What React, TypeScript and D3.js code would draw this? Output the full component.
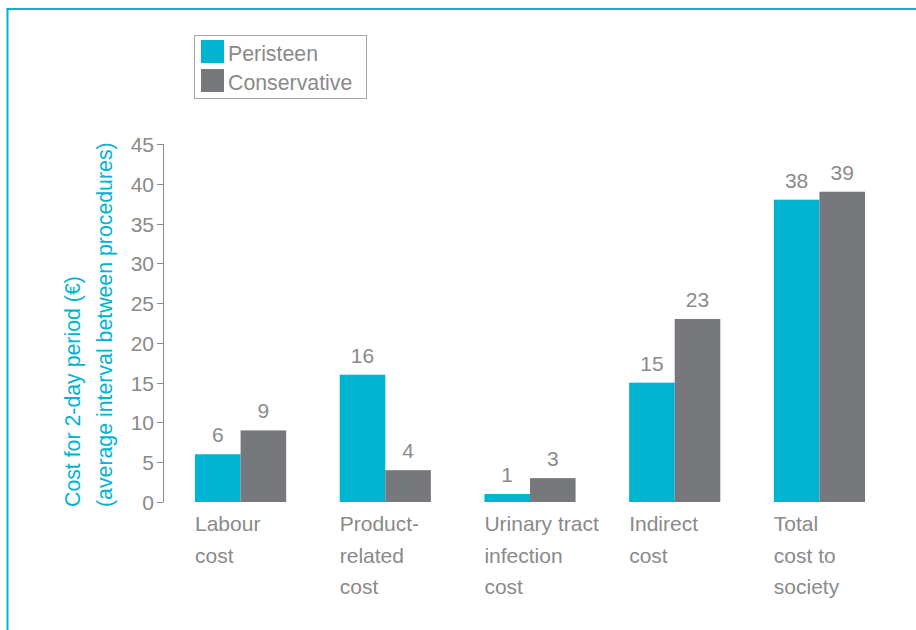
import React from "react";
import * as d3 from "d3";

const categories: string[][] = [
  ["Labour", "cost"],
  ["Product-", "related", "cost"],
  ["Urinary tract", "infection", "cost"],
  ["Indirect", "cost"],
  ["Total", "cost to", "society"],
];
const peristeen = [6, 16, 1, 15, 38];
const conservative = [9, 4, 3, 23, 39];
const series = ["Peristeen", "Conservative"];
const yTicks = [0, 5, 10, 15, 20, 25, 30, 35, 40, 45];
const yTitle = ["Cost for 2-day period (€)", "(average interval between procedures)"];

const W = 916;
const H = 630;
const CYAN = "#00b3d1";
const GREY = "#77787b";
const TEXT = "#8a8a8a";
const FONT = "'Liberation Sans', Arial, sans-serif";
const FS = 21;

export default function App() {
  const idx = categories.map((_, i) => String(i));
  const x = d3.scaleBand<string>().domain(idx).range([195, 865]).paddingInner(0.37).paddingOuter(0);
  const xs = d3.scaleBand<string>().domain(series).range([0, x.bandwidth()]).padding(0);
  const y = d3.scaleLinear().domain([0, 45]).range([502, 144]);
  const color = d3.scaleOrdinal<string, string>().domain(series).range([CYAN, GREY]);
  const values = [peristeen, conservative];

  return (
    <svg width={W} height={H} style={{ position: "absolute", left: 0, top: 0 }} fontFamily={FONT}>
      <rect width={W} height={H} fill="#fff" />
      {/* frame */}
      <line x1={7.5} x2={7.5} y1={8} y2={H} stroke={CYAN} strokeWidth={2} />
      <line x1={6.5} x2={W} y1={9} y2={9} stroke={CYAN} strokeWidth={2} />

      {/* legend */}
      <rect x={194.5} y={35.5} width={172} height={63} fill="#fff" stroke="#a6a6a6" strokeWidth={1} />
      {series.map((s, i) => (
        <g key={s}>
          <rect x={201} y={40 + i * 29} width={23} height={23} fill={color(s)} />
          <text x={228} y={61 + i * 29} fontSize={21.3} fill={TEXT}>{s}</text>
        </g>
      ))}

      {/* y axis */}
      <line x1={163.5} x2={163.5} y1={y(45)} y2={y(0)} stroke="#8c8c8c" strokeWidth={1} />
      {yTicks.map((t) => (
        <g key={t} transform={`translate(0,${Math.round(y(t)) + 0.5})`}>
          <line x1={157} x2={163.5} stroke="#8c8c8c" strokeWidth={1} />
          <text x={154} y={0} dy="0.36em" textAnchor="end" fontSize={FS} fill={TEXT}>{t}</text>
        </g>
      ))}

      {/* y title */}
      {yTitle.map((t, i) => (
        <text key={i} transform={`translate(${80 + i * 32},507) rotate(-90)`} fontSize={21.3} fill={CYAN}>{t}</text>
      ))}

      {/* bars */}
      {categories.map((cat, ci) => (
        <g key={ci} transform={`translate(${x(String(ci))},0)`}>
          {series.map((s, si) => {
            const v = values[si][ci];
            const bx = xs(s)!;
            return (
              <g key={s}>
                <rect x={bx} y={y(v)} width={xs.bandwidth()} height={y(0) - y(v)} fill={color(s)} />
                <text x={bx + xs.bandwidth() / 2} y={y(v) - 12} textAnchor="middle" fontSize={FS} fill={TEXT}>{v}</text>
              </g>
            );
          })}
          {cat.map((line, li) => (
            <text key={li} x={0} y={531 + li * 31.5} fontSize={FS} fill={TEXT}>{line}</text>
          ))}
        </g>
      ))}
    </svg>
  );
}
